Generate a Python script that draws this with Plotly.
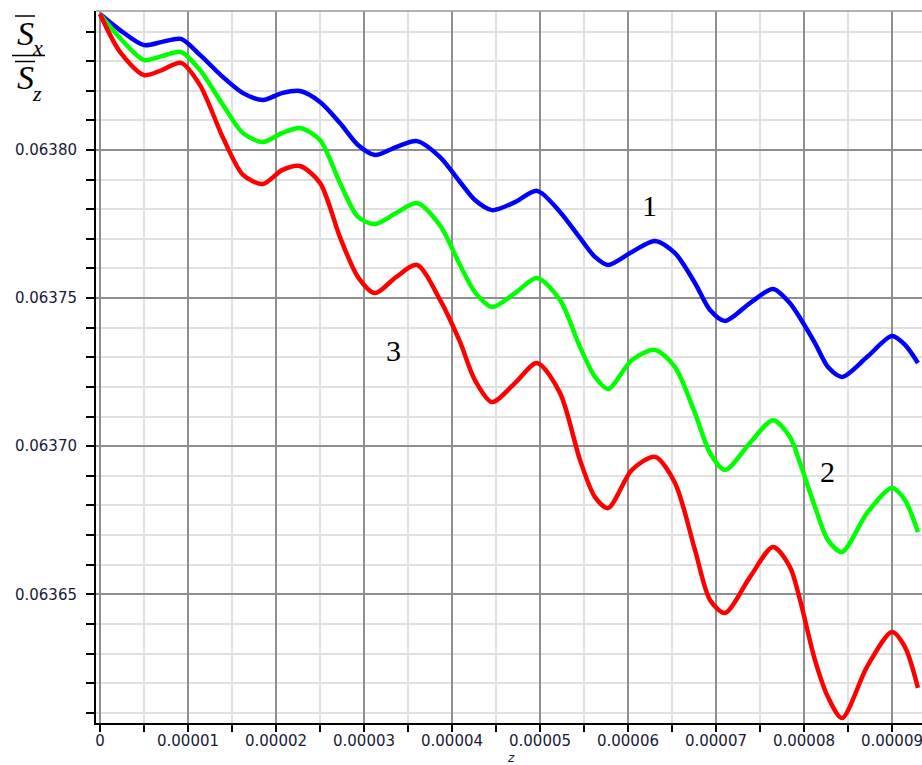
import plotly.graph_objects as go

# ---- data ----
z = [0.0, 0.227e-5, 0.500e-5, 0.705e-5, 0.920e-5, 1.136e-5, 1.398e-5, 1.625e-5, 1.852e-5, 2.068e-5,
     2.273e-5, 2.500e-5, 2.727e-5, 2.932e-5, 3.125e-5, 3.364e-5, 3.602e-5, 3.864e-5, 4.091e-5, 4.261e-5,
     4.455e-5, 4.716e-5, 4.966e-5, 5.227e-5, 5.455e-5, 5.625e-5, 5.773e-5, 6.045e-5, 6.307e-5, 6.534e-5,
     6.761e-5, 6.932e-5, 7.102e-5, 7.386e-5, 7.648e-5, 7.841e-5, 7.955e-5, 8.125e-5, 8.273e-5, 8.432e-5,
     8.716e-5, 9.000e-5, 9.148e-5, 9.295e-5]

curve1 = [0.0638459, 0.0638405, 0.0638354, 0.0638365, 0.0638375, 0.0638321, 0.0638246, 0.0638192, 0.0638169, 0.0638192,
          0.0638199, 0.0638162, 0.0638091, 0.0638017, 0.0637983, 0.0638010, 0.0638030, 0.0637976, 0.0637892, 0.0637831,
          0.0637797, 0.0637824, 0.0637862, 0.0637791, 0.0637703, 0.0637639, 0.0637612, 0.0637656, 0.0637693, 0.0637652,
          0.0637551, 0.0637460, 0.0637423, 0.0637483, 0.0637531, 0.0637483, 0.0637433, 0.0637348, 0.0637267, 0.0637234,
          0.0637301, 0.0637372, 0.0637342, 0.0637281]

curve2 = [0.0638459, 0.0638378, 0.0638304, 0.0638317, 0.0638331, 0.0638270, 0.0638152, 0.0638057, 0.0638027, 0.0638057,
          0.0638074, 0.0638034, 0.0637889, 0.0637774, 0.0637750, 0.0637787, 0.0637821, 0.0637745, 0.0637612, 0.0637520,
          0.0637470, 0.0637517, 0.0637568, 0.0637494, 0.0637335, 0.0637234, 0.0637193, 0.0637291, 0.0637325, 0.0637267,
          0.0637112, 0.0636977, 0.0636920, 0.0637011, 0.0637088, 0.0637031, 0.0636943, 0.0636795, 0.0636683, 0.0636643,
          0.0636774, 0.0636859, 0.0636818, 0.0636710]

curve3 = [0.0638459, 0.0638331, 0.0638253, 0.0638270, 0.0638294, 0.0638219, 0.0638041, 0.0637916, 0.0637885, 0.0637932,
          0.0637946, 0.0637889, 0.0637706, 0.0637571, 0.0637517, 0.0637571, 0.0637612, 0.0637494, 0.0637352, 0.0637223,
          0.0637149, 0.0637213, 0.0637281, 0.0637180, 0.0636953, 0.0636828, 0.0636791, 0.0636920, 0.0636964, 0.0636876,
          0.0636650, 0.0636481, 0.0636437, 0.0636558, 0.0636660, 0.0636592, 0.0636481, 0.0636278, 0.0636153, 0.0636082,
          0.0636255, 0.0636373, 0.0636322, 0.0636184]

series_names = ["1", "2", "3"]
series_colors = ["#0000ff", "#00ff00", "#ff0000"]

x_tick_vals = [0, 0.00001, 0.00002, 0.00003, 0.00004, 0.00005, 0.00006, 0.00007, 0.00008, 0.00009]
x_tick_text = ["0", "0.00001", "0.00002", "0.00003", "0.00004", "0.00005", "0.00006", "0.00007", "0.00008", "0.00009"]
y_tick_vals = [0.06365, 0.06370, 0.06375, 0.06380]
y_tick_text = ["0.06365", "0.06370", "0.06375", "0.06380"]

# ---- layout geometry (pixels) ----
W, H = 922, 765
L, R, T, B = 96, 0, 11, 42
PW, PH = W - L - R, H - T - B


def px(p):
    return (p - L) / PW


def py(p):
    return (H - B - p) / PH


fig = go.Figure()
for ys, name, col in zip([curve1, curve2, curve3], series_names, series_colors):
    fig.add_trace(go.Scatter(x=z, y=ys, mode="lines", name=name,
                             line=dict(color=col, width=4.5, shape="spline", smoothing=0.8),
                             showlegend=False, hoverinfo="skip"))

tick_font = dict(family="DejaVu Sans", size=15, color="#1a1a3a")

fig.update_layout(
    width=W, height=H,
    margin=dict(l=L, r=R, t=T, b=B, pad=0, autoexpand=False),
    paper_bgcolor="white", plot_bgcolor="white",
    xaxis=dict(
        range=[-0.04545e-5, 9.341e-5], automargin=False,
        tickvals=x_tick_vals, ticktext=x_tick_text,
        showgrid=True, gridcolor="#8f8f8f", gridwidth=1.5,
        showline=True, linecolor="#000000", linewidth=2,
        ticks="outside", ticklen=7, tickwidth=1.5, tickcolor="#000000",
        tickfont=tick_font, zeroline=False, ticklabeloverflow="allow",
        ticklabelstandoff=-4,
        minor=dict(dtick=0.000005, tick0=0, showgrid=True, gridcolor="#e0e0e0", gridwidth=2,
                   ticks="outside", ticklen=7, tickwidth=1.5, tickcolor="#000000"),
    ),
    yaxis=dict(
        range=[0.06360655, 0.06384693], automargin=False,
        tickvals=y_tick_vals, ticktext=y_tick_text,
        showgrid=True, gridcolor="#8f8f8f", gridwidth=1.5,
        showline=True, linecolor="#000000", linewidth=2,
        ticks="outside", ticklen=8, tickwidth=1.5, tickcolor="#000000",
        tickfont=tick_font, zeroline=False, ticklabelstandoff=6, ticklabeloverflow="allow",
        minor=dict(dtick=0.00001, tick0=0.06365, showgrid=True, gridcolor="#e0e0e0", gridwidth=2,
                   ticks="outside", ticklen=8, tickwidth=1.5, tickcolor="#000000"),
    ),
)

# top border
fig.add_shape(type="line", xref="paper", yref="paper", x0=0, x1=1, y0=1, y1=1,
              line=dict(color="#9a9a9a", width=1.5))

# axis title z
fig.add_annotation(text="<i>z</i>", xref="paper", yref="paper", x=px(511), y=py(758),
                   showarrow=False, font=dict(family="DejaVu Sans", size=12, color="#1a1a3a"),
                   xanchor="center", yanchor="middle")

# y label: fraction S_x / S_z with overbars
serif = "Liberation Serif"
fig.add_annotation(text="<i>S</i>", xref="paper", yref="paper", x=px(25), y=py(33),
                   showarrow=False, font=dict(family=serif, size=34, color="black"),
                   xanchor="center", yanchor="middle")
fig.add_annotation(text="<i>x</i>", xref="paper", yref="paper", x=px(37), y=py(47),
                   showarrow=False, font=dict(family=serif, size=22, color="black"),
                   xanchor="center", yanchor="middle")
fig.add_annotation(text="<i>S</i>", xref="paper", yref="paper", x=px(25), y=py(78),
                   showarrow=False, font=dict(family=serif, size=34, color="black"),
                   xanchor="center", yanchor="middle")
fig.add_annotation(text="<i>z</i>", xref="paper", yref="paper", x=px(37), y=py(93),
                   showarrow=False, font=dict(family=serif, size=22, color="black"),
                   xanchor="center", yanchor="middle")
for (xa, xb, yy) in [(15, 35, 16), (12, 45, 55.5), (15, 35, 61.5)]:
    fig.add_shape(type="line", xref="paper", yref="paper", x0=px(xa), x1=px(xb), y0=py(yy), y1=py(yy),
                  line=dict(color="black", width=1.5))

# curve labels
for txt, cx, cy in [("1", 649, 206), ("2", 827, 471), ("3", 393, 350)]:
    fig.add_annotation(text=txt, xref="paper", yref="paper", x=px(cx), y=py(cy),
                       showarrow=False, font=dict(family=serif, size=30, color="black"),
                       xanchor="center", yanchor="middle")

fig.write_html("out.html", config={"displayModeBar": False},
               post_script="document.body.style.margin='0px';document.body.style.overflow='hidden';")
